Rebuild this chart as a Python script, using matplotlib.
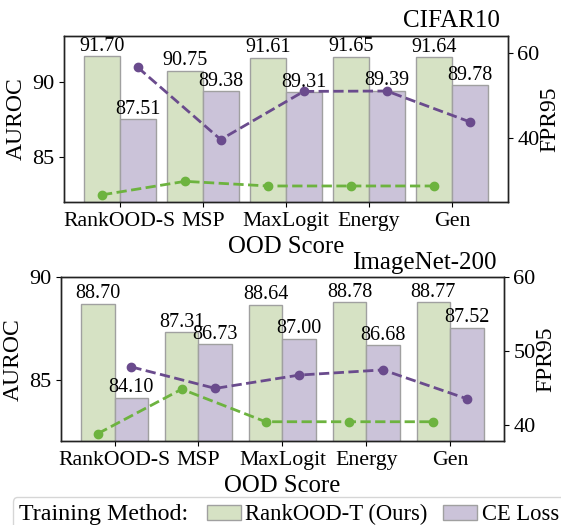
import matplotlib
matplotlib.use('Agg')
import matplotlib.pyplot as plt
from matplotlib.patches import Patch
from matplotlib.offsetbox import HPacker
import numpy as np

plt.rcParams['font.family'] = ['Liberation Serif', 'DejaVu Serif']

methods = ['RankOOD-S', 'MSP', 'MaxLogit', 'Energy', 'Gen']

cifar_auroc_rank = [91.70, 90.75, 91.61, 91.65, 91.64]
cifar_auroc_ce = [87.51, 89.38, 89.31, 89.39, 89.78]
cifar_fpr_rank = [26.5, 29.7, 28.6, 28.6, 28.6]
cifar_fpr_ce = [56.7, 39.6, 51.0, 51.1, 43.8]

imnet_auroc_rank = [88.70, 87.31, 88.64, 88.78, 88.77]
imnet_auroc_ce = [84.10, 86.73, 87.00, 86.68, 87.52]
imnet_fpr_rank = [38.9, 44.9, 40.5, 40.5, 40.5]
imnet_fpr_ce = [47.9, 45.0, 46.8, 47.5, 43.6]

GREEN_BAR = '#d6e2c4'
PURPLE_BAR = '#cbc3d9'
EDGE = '#a0a0a0'
GREEN_LINE = '#6db33f'
PURPLE_LINE = '#6a4b8d'


def draw_panel(ax, auroc_rank, auroc_ce, fpr_rank, fpr_ce, width, title,
               ylim, ylim2, yticks, yticks2):
    x = np.arange(len(methods))
    b1 = ax.bar(x - width / 2, auroc_rank, width, color=GREEN_BAR,
                edgecolor=EDGE, linewidth=1.0)
    b2 = ax.bar(x + width / 2, auroc_ce, width, color=PURPLE_BAR,
                edgecolor=EDGE, linewidth=1.0)
    ax.bar_label(b1, fmt='%.2f', padding=0.5, fontsize=14.5)
    ax.bar_label(b2, fmt='%.2f', padding=0.5, fontsize=14.5)
    ax.set_ylim(*ylim)
    ax.set_yticks(yticks)
    ax.set_xticks(x)
    ax.set_xticklabels(methods, fontsize=15.7)
    ax.tick_params(axis='y', labelsize=16)
    ax.set_ylabel('AUROC', fontsize=17)
    ax.set_xlabel('OOD Score', fontsize=17.8)
    t = ax.set_title(title, loc='right', fontsize=18)
    t.set_x(0.983)

    ax2 = ax.twinx()
    ax2.plot(x - width / 2, fpr_rank, '--o', color=GREEN_LINE, lw=2, ms=6)
    ax2.plot(x + width / 2, fpr_ce, '--o', color=PURPLE_LINE, lw=2, ms=6)
    ax2.set_ylim(*ylim2)
    ax2.set_yticks(yticks2)
    ax2.tick_params(axis='y', labelsize=16)
    ax2.set_ylabel('FPR95', fontsize=17, labelpad=0)
    for a in (ax, ax2):
        for s in a.spines.values():
            s.set_color('#222222')
            s.set_linewidth(1.0)
    return ax2


fig = plt.figure(figsize=(5.61, 5.25), dpi=100)
ax_top = fig.add_axes([0.1141, 0.6152, 0.7909, 0.3168])
ax_bot = fig.add_axes([0.1087, 0.1600, 0.7892, 0.3118])

draw_panel(ax_top, cifar_auroc_rank, cifar_auroc_ce, cifar_fpr_rank, cifar_fpr_ce,
           0.43, 'CIFAR10', (82, 93.08), (24.8, 64.2), [85, 90], [40, 60])
draw_panel(ax_bot, imnet_auroc_rank, imnet_auroc_ce, imnet_fpr_rank, imnet_fpr_ce,
           0.40, 'ImageNet-200', (82, 90), (37.9, 60), [85, 90], [40, 50, 60])

handles = [Patch(facecolor=GREEN_BAR, edgecolor=EDGE),
           Patch(facecolor=PURPLE_BAR, edgecolor=EDGE)]
leg = fig.legend(handles, ['RankOOD-T (Ours)', 'CE Loss'], title='Training Method:',
                 loc='upper left', bbox_to_anchor=(0.0225, 0.0524), ncol=2,
                 fontsize=16.3, title_fontsize=17.3, handlelength=1.5,
                 handleheight=0.6, handletextpad=0.2, columnspacing=0.7,
                 borderpad=0.3, borderaxespad=0)

# put the title to the left of the entries instead of above them
old_box = leg._legend_box
new_box = HPacker(pad=old_box.pad, sep=13, align='center',
                  children=old_box.get_children())
new_box.set_figure(fig)
new_box.set_offset(leg._findoffset)
leg._legend_box = new_box

fig.savefig('out.png', dpi=100)
